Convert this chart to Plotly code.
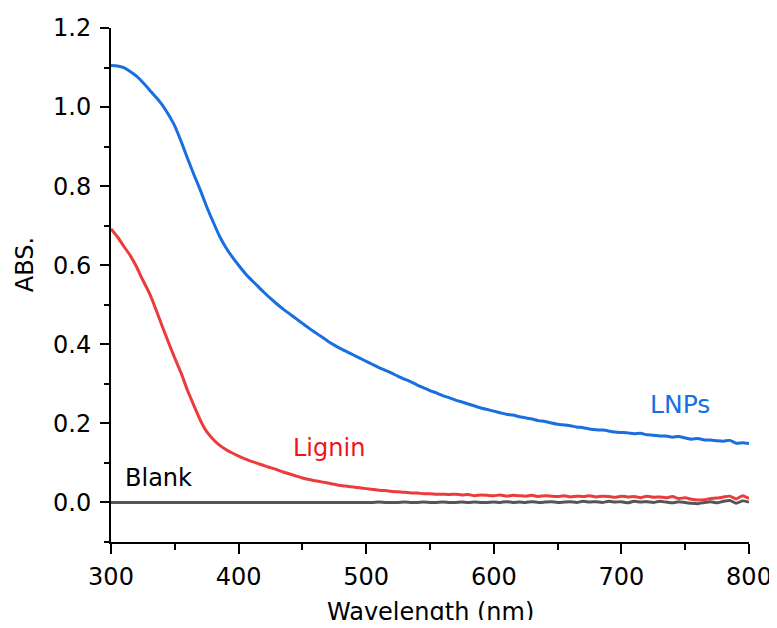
import plotly.graph_objects as go

# wavelength grid (nm)
wavelength = list(range(300, 805, 5))

lnps_abs = [
    1.105, 1.104, 1.100, 1.090, 1.078, 1.062, 1.044, 1.026, 1.006, 0.981,
    0.952, 0.913, 0.870, 0.829, 0.790, 0.748, 0.710, 0.674, 0.645, 0.621,
    0.600, 0.580, 0.563, 0.547, 0.531, 0.516, 0.502, 0.489, 0.477, 0.465,
    0.453, 0.441, 0.430, 0.419, 0.408, 0.398, 0.389, 0.381, 0.373, 0.365,
    0.357, 0.349, 0.341, 0.334, 0.327, 0.319, 0.312, 0.305, 0.297, 0.290,
    0.283, 0.277, 0.270, 0.265, 0.259, 0.254, 0.249, 0.244, 0.239, 0.235,
    0.231, 0.227, 0.223, 0.221, 0.217, 0.214, 0.211, 0.207, 0.205, 0.201,
    0.198, 0.196, 0.194, 0.191, 0.189, 0.186, 0.184, 0.183, 0.181, 0.178,
    0.177, 0.176, 0.174, 0.175, 0.171, 0.170, 0.168, 0.168, 0.165, 0.167,
    0.163, 0.160, 0.162, 0.158, 0.158, 0.156, 0.155, 0.157, 0.150, 0.151,
    0.149,
]

lignin_abs = [
    0.692, 0.672, 0.648, 0.625, 0.596, 0.562, 0.530, 0.490, 0.447, 0.405,
    0.365, 0.327, 0.283, 0.245, 0.208, 0.179, 0.160, 0.145, 0.134, 0.125,
    0.117, 0.110, 0.104, 0.099, 0.093, 0.088, 0.083, 0.077, 0.072, 0.067,
    0.062, 0.058, 0.055, 0.052, 0.049, 0.046, 0.043, 0.041, 0.039, 0.037,
    0.035, 0.033, 0.031, 0.030, 0.028, 0.027, 0.026, 0.024, 0.024, 0.022,
    0.022, 0.021, 0.021, 0.020, 0.021, 0.019, 0.020, 0.017, 0.019, 0.018,
    0.017, 0.019, 0.016, 0.018, 0.017, 0.016, 0.018, 0.015, 0.017, 0.016,
    0.015, 0.017, 0.014, 0.016, 0.015, 0.017, 0.014, 0.016, 0.015, 0.013,
    0.016, 0.014, 0.015, 0.012, 0.016, 0.013, 0.014, 0.012, 0.015, 0.010,
    0.012, 0.008, 0.006, 0.007, 0.010, 0.011, 0.014, 0.016, 0.009, 0.017,
    0.010,
]

blank_abs = [
    0.000, 0.000, 0.000, 0.000, 0.000, 0.000, 0.000, 0.000, 0.000, 0.000,
    0.000, 0.000, 0.000, 0.000, 0.000, 0.000, 0.000, 0.000, 0.000, 0.000,
    0.000, 0.000, 0.000, 0.000, 0.000, 0.000, 0.000, 0.000, 0.000, 0.000,
    0.000, 0.000, 0.000, 0.000, 0.000, 0.000, 0.000, 0.000, 0.000, 0.000,
    0.000, 0.000, 0.001, 0.000, 0.000, 0.000, 0.001, 0.000, 0.000, 0.001,
    0.000, 0.000, 0.001, 0.000, 0.000, 0.001, 0.000, 0.001, 0.000, 0.000,
    0.001, 0.000, 0.002, 0.000, 0.001, 0.000, 0.002, 0.000, 0.001, 0.002,
    0.000, 0.001, 0.002, 0.000, 0.003, 0.001, 0.002, 0.000, 0.003, 0.001,
    0.002, -0.001, 0.003, 0.001, 0.002, 0.000, 0.003, 0.001, -0.001, 0.002,
    0.000, -0.002, -0.003, 0.000, 0.002, -0.001, 0.003, 0.005, -0.002, 0.004,
    0.001,
]

series_names = ["Blank", "Lignin", "LNPs"]
series_colors = ["#555555", "#EB3C3C", "#1A6FE0"]

label_text = ["LNPs", "Lignin", "Blank"]
label_x = [746, 471, 337]
label_y = [0.248, 0.138, 0.062]
label_colors = ["#1A6FE0", "#F01515", "#000000"]
label_sizes = [25, 24, 24]

x_ticks = [300, 400, 500, 600, 700, 800]
y_ticks = [0.0, 0.2, 0.4, 0.6, 0.8, 1.0, 1.2]

FONT = "DejaVu Sans"

fig = go.Figure()
for name, ys, col in zip(series_names, [blank_abs, lignin_abs, lnps_abs], series_colors):
    fig.add_trace(go.Scatter(x=wavelength, y=ys, mode="lines", name=name,
                             line=dict(color=col, width=3, shape="spline", smoothing=0.5),
                             showlegend=False))

for t, xv, yv, c, s in zip(label_text, label_x, label_y, label_colors, label_sizes):
    fig.add_annotation(x=xv, y=yv, text=t, showarrow=False, xanchor="center",
                       yanchor="middle", font=dict(family=FONT, size=s, color=c))

# axis titles as annotations so their position is fixed
fig.add_annotation(xref="paper", yref="y", x=0, y=0.60, xshift=-86, text="ABS.",
                   textangle=-90, showarrow=False, xanchor="center", yanchor="middle",
                   font=dict(family=FONT, size=24, color="black"))
fig.add_annotation(xref="paper", yref="paper", x=0.5, y=0, yshift=-70, text="Wavelength (nm)",
                   showarrow=False, xanchor="center", yanchor="middle",
                   font=dict(family=FONT, size=24, color="black"))

# page has an 8px body margin, so the figure is sized to fit the 777x628 window
fig.update_layout(
    width=769, height=612,
    margin=dict(l=103, r=28, t=20, b=78, autoexpand=False),
    plot_bgcolor="white", paper_bgcolor="white",
    font=dict(family=FONT, size=24, color="black"),
)
fig.update_xaxes(
    range=[300, 800], tickvals=x_ticks, showline=True, linewidth=2, linecolor="black",
    ticks="outside", ticklen=10, tickwidth=2, tickcolor="black", showgrid=False,
    zeroline=False, mirror=False, automargin=False,
    minor=dict(dtick=50, ticks="outside", ticklen=6, tickwidth=2, tickcolor="black", showgrid=False),
    tickfont=dict(family=FONT, size=24), ticklabelstandoff=2,
)
fig.update_yaxes(
    range=[-0.1, 1.2], tickvals=y_ticks, tickformat=".1f", showline=True, linewidth=2,
    linecolor="black", ticks="outside", ticklen=9, tickwidth=2, tickcolor="black",
    showgrid=False, zeroline=False, mirror=False, automargin=False,
    minor=dict(dtick=0.1, ticks="outside", ticklen=5, tickwidth=2, tickcolor="black", showgrid=False),
    tickfont=dict(family=FONT, size=24), ticklabelstandoff=4,
)

fig.write_html("out.html")
